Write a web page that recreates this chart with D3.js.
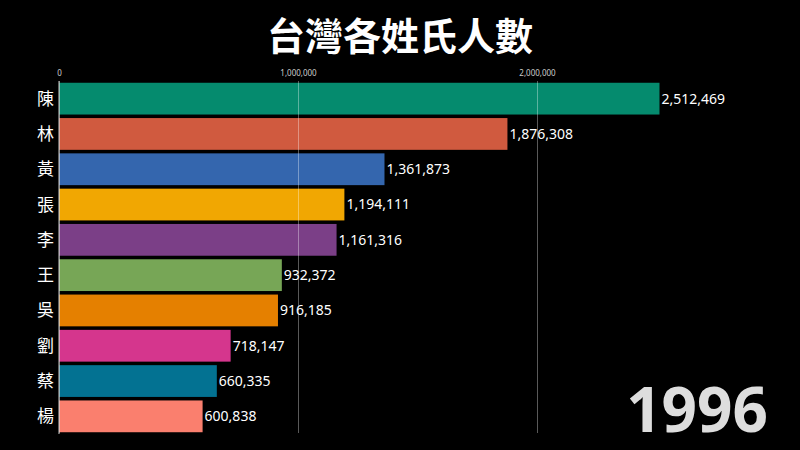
<!DOCTYPE html><html><head><meta charset="utf-8">
<script src="https://cdn.jsdelivr.net/npm/d3@7"></script>
<style>body{margin:0;background:#000}</style></head><body><svg id="c" width="800" height="450"></svg>
<script>
const names=["陳","林","黃","張","李","王","吳","劉","蔡","楊"];
const values=[2512469,1876308,1361873,1194111,1161316,932372,916185,718147,660335,600838];
const colors=["#058b6e","#d05a3f","#3466ae","#f1a702","#7b3f87","#77a656","#e58000","#d5368d","#037292","#fa7f6e"];
const ticks=[0,1000000,2000000];
const svg=d3.select("#c");
svg.append("rect").attr("width",800).attr("height",450).attr("fill","#000");
const x=d3.scaleLinear().domain([0,1000000]).range([59,298]);
const y=d3.scaleBand().domain(names).range([81,434]).paddingInner(0.1).paddingOuter(0.05);
svg.append("text").attr("x",400).attr("y",50).attr("text-anchor","middle").attr("fill","#fff")
 .attr("font-family","Noto Sans CJK TC").attr("font-weight","bold").attr("font-size",38).text("台灣各姓氏人數");
svg.selectAll("rect.b").data(names).join("rect").attr("class","b").attr("x",x(0)).attr("y",d=>y(d))
 .attr("width",(d,i)=>x(values[i])-x(0)).attr("height",y.bandwidth()).attr("fill",(d,i)=>colors[i]);
const ax=svg.append("g").attr("transform","translate(0,81)").call(d3.axisTop(x).tickValues(ticks).tickSize(-352).tickFormat(d3.format(",")));
ax.select(".domain").remove();
ax.selectAll("line").attr("stroke","#fff").attr("stroke-opacity",0.35);
ax.selectAll("text").attr("fill","#ccc").attr("font-size",8).attr("font-family","Noto Sans").attr("dy","-2");
svg.append("line").attr("x1",x(0)).attr("x2",x(0)).attr("y1",81).attr("y2",434).attr("stroke","#ccc").attr("stroke-width",1);
svg.selectAll("text.n").data(names).join("text").attr("class","n").attr("x",54).attr("y",d=>y(d)+y.bandwidth()/2)
 .attr("dy","0.35em").attr("text-anchor","end").attr("fill","#fff").attr("font-size",17).attr("font-family","Noto Sans CJK TC").text(d=>d);
svg.selectAll("text.v").data(names).join("text").attr("class","v").attr("x",(d,i)=>x(values[i])+2).attr("y",d=>y(d)+y.bandwidth()/2)
 .attr("dy","0.35em").attr("fill","#fff").attr("font-size",14).attr("font-family","Noto Sans").text((d,i)=>d3.format(",")(values[i]));
svg.append("text").attr("x",768).attr("y",432).attr("text-anchor","end").attr("fill","#ddd").attr("font-weight","bold")
 .attr("font-size",62).attr("font-family","Noto Sans").text("1996");
</script></body></html>
